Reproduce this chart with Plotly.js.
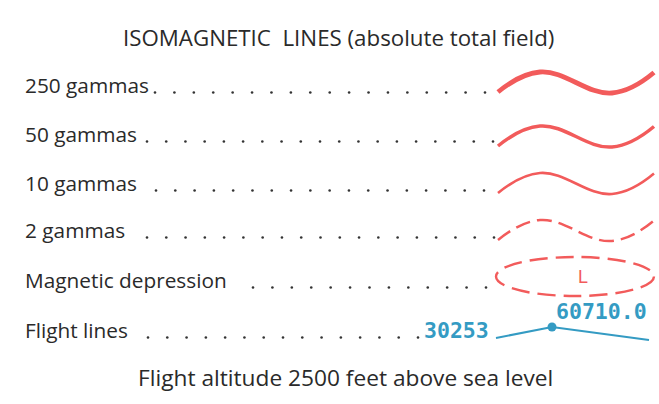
<!DOCTYPE html>
<html>
<head>
<meta charset="utf-8">
<script src="https://cdn.plot.ly/plotly-3.0.1.min.js"></script>
<style>html,body{margin:0;padding:0;background:#fff}</style>
</head>
<body>
<div id="chart" style="width:659px;height:404px"></div>
<script>
const titleText = "ISOMAGNETIC\u00a0 LINES (absolute total field)";
const footerText = "Flight altitude 2500 feet above sea level";
const rowLabels = ["250 gammas", "50 gammas", "10 gammas", "2 gammas", "Magnetic depression", "Flight lines"];
const rowY = [85, 134, 183, 230, 280, 330];               // label centres
const leaderStart = [155, 147, 156, 147, 253, 148];       // first leader dot
const leaderEnd = [485, 493, 484, 494, 486, 418];         // last leader dot
const leaderCount = [18, 19, 18, 19, 13, 15];
const waveMid = [82.5, 136.5, 183.5, 230.5];              // isoline symbol centres
const waveWidth = [4.8, 3.5, 2.6, 2.5];
const waveDash = ["solid", "solid", "solid", "15px,7px"];
const waveX = [498, 540, 612, 654];                        // start, crest, trough, end
const waveDY = [9.5, -10.5, 10.5, -10];
const depressionBox = [496, 257, 654, 296];
const depressionMark = "L";
const flightX = [496, 552, 649];
const flightY = [338, 327, 340];
const flightFix = "30253";
const flightValue = "60710.0";

const RED = "#f25b5b", BLUE = "#349bc3", INK = "#2a2a2a";
const SANS = "Open Sans, sans-serif";
const MONO = "DejaVu Sans Mono, monospace";

const traces = [];
// leader dots
rowLabels.forEach((lab, i) => {
  const xs = [], ys = [];
  for (let k = 0; k < leaderCount[i]; k++) {
    xs.push(leaderStart[i] + (leaderEnd[i] - leaderStart[i]) * k / (leaderCount[i] - 1));
    ys.push(rowY[i] + 7.5);
  }
  traces.push({x: xs, y: ys, mode: "markers", type: "scatter", hoverinfo: "skip",
    marker: {size: 2.6, color: "#333"}});
});
// isoline symbols
waveMid.forEach((m, i) => {
  traces.push({x: waveX, y: waveDY.map(d => m + d), mode: "lines", type: "scatter", hoverinfo: "skip",
    line: {color: RED, width: waveWidth[i], dash: waveDash[i], shape: "spline", smoothing: 1.2}});
});
// flight line
traces.push({x: flightX, y: flightY, mode: "lines", type: "scatter", hoverinfo: "skip",
  line: {color: BLUE, width: 2}});
traces.push({x: [flightX[1]], y: [flightY[1]], mode: "markers", type: "scatter", hoverinfo: "skip",
  marker: {color: BLUE, size: 9}});

const ann = [];
rowLabels.forEach((lab, i) => {
  ann.push({x: 23, y: rowY[i], xref: "x", yref: "y", text: lab, showarrow: false,
    xanchor: "left", yanchor: "middle", font: {family: SANS, size: 20.8, color: INK}});
});
ann.push({x: 338, y: 37.5, xref: "x", yref: "y", text: titleText, showarrow: false,
  xanchor: "center", yanchor: "middle", font: {family: SANS, size: 22.3, color: INK}});
ann.push({x: 345, y: 377.5, xref: "x", yref: "y", text: footerText, showarrow: false,
  xanchor: "center", yanchor: "middle", font: {family: SANS, size: 22.7, color: INK}});
ann.push({x: 583, y: 277, xref: "x", yref: "y", text: depressionMark, showarrow: false,
  xanchor: "center", yanchor: "middle", font: {family: "Liberation Sans, sans-serif", size: 18, color: RED}});
ann.push({x: 491, y: 330, xref: "x", yref: "y", text: "<b>" + flightFix + "</b>", showarrow: false,
  xanchor: "right", yanchor: "middle", font: {family: MONO, size: 21.5, color: BLUE}});
ann.push({x: 601, y: 311.5, xref: "x", yref: "y", text: "<b>" + flightValue + "</b>", showarrow: false,
  xanchor: "center", yanchor: "middle", font: {family: MONO, size: 21.5, color: BLUE}});

const layout = {
  width: 659, height: 404,
  margin: {l: 0, r: 0, t: 0, b: 0},
  paper_bgcolor: "#fff", plot_bgcolor: "#fff",
  showlegend: false,
  xaxis: {range: [0, 659], visible: false, fixedrange: true},
  yaxis: {range: [404, 0], visible: false, fixedrange: true},
  annotations: ann,
  shapes: [{type: "circle", xref: "x", yref: "y",
    x0: depressionBox[0], y0: depressionBox[1], x1: depressionBox[2], y1: depressionBox[3],
    line: {color: RED, width: 2.4, dash: "18px,8px"}}]
};
Plotly.newPlot("chart", traces, layout, {displayModeBar: false, staticPlot: true});
</script>
</body>
</html>
